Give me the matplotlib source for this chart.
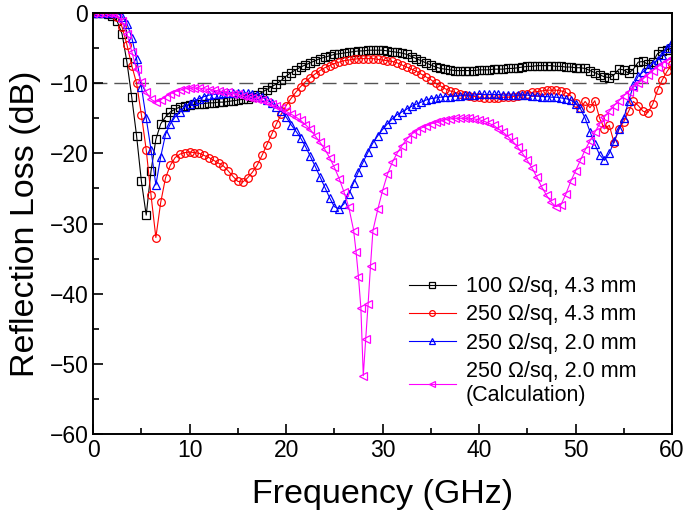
import numpy as np
import matplotlib
matplotlib.use("Agg")
import matplotlib.pyplot as plt
from matplotlib.ticker import MultipleLocator

plt.rcParams["font.family"] = ["Liberation Sans", "DejaVu Sans"]

# frequency grid (GHz) of the measured curves
freq = np.arange(0, 60.01, 0.5)

# 100 ohm/sq, 4.3 mm
rl_100_43 = [
    0, 0, 0, -0.1, -0.4, -1.2, -3.0, -7.0, -12.0, -17.5,
    -24.0, -28.8, -22.5, -18.0, -15.8, -14.8, -14.1, -13.7, -13.4, -13.2,
    -13.1, -13.0, -12.9, -12.9, -12.8, -12.8, -12.7, -12.7, -12.6, -12.5,
    -12.4, -12.3, -12.2, -12.0, -11.7, -11.3, -10.9, -10.5, -10.1, -9.6,
    -9.0, -8.5, -8.1, -7.7, -7.4, -7.1, -6.8, -6.5, -6.3, -6.1,
    -5.9, -5.8, -5.7, -5.6, -5.5, -5.4, -5.4, -5.3, -5.3, -5.3,
    -5.3, -5.4, -5.5, -5.6, -5.7, -5.9, -6.2, -6.5, -6.8, -7.1,
    -7.4, -7.7, -7.9, -8.0, -8.1, -8.2, -8.2, -8.2, -8.2, -8.2,
    -8.1, -8.1, -8.1, -8.0, -8.0, -8.0, -7.9, -7.9, -7.8, -7.7,
    -7.6, -7.6, -7.5, -7.5, -7.5, -7.5, -7.6, -7.6, -7.7, -7.7,
    -7.8, -7.8, -7.9, -8.2, -8.5, -8.8, -9.1, -9.2, -8.8, -8.0,
    -8.1, -8.6, -8.0, -7.0, -6.9, -7.3, -7.0, -5.8, -5.4, -5.2,
    -5.0,
]

# 250 ohm/sq, 4.3 mm
rl_250_43 = [
    0, 0, 0, 0, 0, -0.5, -2.0, -4.5, -7.5, -10.0,
    -14.5, -19.5, -26.0, -32.0, -27.0, -23.5, -21.7, -20.6, -20.1, -19.9,
    -19.8, -19.9, -20.0, -20.3, -20.6, -21.0, -21.4, -21.8, -22.5, -23.3,
    -24.0, -24.1, -23.5, -22.7, -21.7, -20.3, -18.8, -17.3, -15.8, -14.4,
    -13.2, -12.2, -11.3, -10.5, -9.8, -9.2, -8.7, -8.2, -7.8, -7.5,
    -7.2, -7.0, -6.8, -6.7, -6.6, -6.5, -6.5, -6.5, -6.5, -6.6,
    -6.7, -6.8, -6.9, -7.1, -7.4, -7.7, -8.0, -8.3, -8.7, -9.1,
    -9.5, -10.0, -10.4, -10.8, -11.1, -11.3, -11.5, -11.7, -11.8, -11.9,
    -12.0, -12.1, -12.1, -12.1, -12.1, -12.0, -12.0, -11.9, -11.8, -11.6,
    -11.5, -11.3, -11.2, -11.1, -11.0, -11.0, -11.0, -11.1, -11.3, -11.8,
    -12.8, -13.6, -12.6, -13.5, -12.5, -15.0, -16.5, -16.0, -18.5, -16.5,
    -15.5, -14.0, -12.6, -13.2, -14.0, -14.2, -13.0, -11.0, -9.5, -8.3,
    -7.3,
]

# 250 ohm/sq, 2.0 mm
rl_250_20 = [
    0, 0, 0, 0, 0, 0, -0.5, -1.5, -3.5, -6.5,
    -10.5, -15.0, -19.5, -24.5, -20.5, -17.3, -15.8, -14.8, -14.1, -13.4,
    -12.9, -12.5, -12.2, -11.9, -11.7, -11.6, -11.5, -11.4, -11.4, -11.4,
    -11.4, -11.4, -11.4, -11.5, -11.7, -12.0, -12.4, -12.8, -13.4, -14.0,
    -14.8, -15.9, -16.8, -17.8, -19.0, -20.4, -21.8, -23.3, -24.8, -26.3,
    -27.6, -27.9, -27.2, -25.8, -24.2, -22.6, -21.2, -19.8, -18.5, -17.5,
    -16.6, -15.8, -15.1, -14.5, -14.1, -13.7, -13.3, -13.0, -12.7, -12.4,
    -12.2, -12.1, -12.0, -11.9, -11.9, -11.8, -11.8, -11.7, -11.7, -11.7,
    -11.6, -11.6, -11.6, -11.6, -11.6, -11.7, -11.7, -11.7, -11.7, -11.7,
    -11.7, -11.8, -11.8, -11.9, -11.9, -12.0, -12.0, -12.1, -12.2, -12.4,
    -12.9, -13.6, -15.0, -16.9, -18.7, -20.2, -21.0, -20.0, -18.3, -16.6,
    -15.0, -12.6, -10.3, -9.0, -8.4, -7.8, -7.2, -6.7, -6.0, -5.0,
    -4.2,
]

# 250 ohm/sq, 2.0 mm (calculation) - finer steps around the deep dip
freq_calc = np.concatenate([np.arange(0, 27, 0.5),
                            np.arange(27, 29.01, 0.25),
                            np.arange(29.5, 60.01, 0.5)])
rl_calc = [
    0, 0, 0, 0, 0, -0.3, -1.2, -3.0, -5.5, -8.0,
    -9.8, -11.3, -12.3, -12.7, -12.4, -11.9, -11.5, -11.2, -11.0, -10.8,
    -10.7, -10.7, -10.7, -10.8, -10.9, -11.0, -11.1, -11.2, -11.3, -11.5,
    -11.6, -11.8, -11.9, -12.1, -12.2, -12.4, -12.7, -13.0, -13.3, -13.6,
    -14.0, -14.4, -14.8, -15.3, -15.9, -16.6, -17.5, -18.4, -19.4, -20.6,
    -22.0, -23.6, -25.5, -27.7,
    -31.0, -34.0, -37.6, -42.0, -51.7, -46.5, -41.5, -36.0, -31.0,
    -28.0, -25.3, -23.0, -21.3, -20.0, -18.9, -18.0, -17.3, -16.8, -16.4,
    -16.1, -15.8, -15.6, -15.4, -15.2, -15.1, -15.0, -15.0, -15.0, -15.0,
    -15.1, -15.2, -15.4, -15.7, -16.0, -16.5, -17.0, -17.6, -18.3, -19.1,
    -20.0, -21.0, -22.1, -23.4, -24.8, -26.0, -27.0, -27.6, -27.3, -25.8,
    -24.0, -22.5, -21.0, -19.5, -18.2, -17.0, -15.8, -14.8, -14.0, -13.2,
    -12.5, -11.8, -11.2, -10.6, -10.0, -9.4, -8.8, -8.2, -7.7, -7.2,
    -6.8, -6.4,
]

labels = ["100 \u03a9/sq, 4.3 mm", "250 \u03a9/sq, 4.3 mm",
          "250 \u03a9/sq, 2.0 mm", "250 \u03a9/sq, 2.0 mm\n(Calculation)"]

fig = plt.figure(figsize=(6.85, 5.21), dpi=100)
ax = fig.add_axes([0.136, 0.167, 0.845, 0.808])

ax.axhline(-10, color="#555555", lw=1.0, ls=(0, (10, 5)), zorder=1)

style = dict(lw=0.8, markersize=5.5, markeredgewidth=0.9, fillstyle="none")
ax.plot(freq, rl_100_43, color="black", marker="s", label=labels[0], **style)
ax.plot(freq, rl_250_43, color="#ff0000", marker="o", label=labels[1], **style)
ax.plot(freq, rl_250_20, color="#0000ff", marker="^", label=labels[2], **style)
ax.plot(freq_calc, rl_calc, color="#ff00ff", marker="<", label=labels[3], **style)

ax.set_xlim(0, 60)
ax.set_ylim(-60, 0)
ax.xaxis.set_major_locator(MultipleLocator(10))
ax.xaxis.set_minor_locator(MultipleLocator(5))
ax.yaxis.set_major_locator(MultipleLocator(10))
ax.yaxis.set_minor_locator(MultipleLocator(5))
ax.tick_params(which="both", direction="in", labelsize=16.5, width=1.2)
ax.tick_params(which="major", length=7)
ax.tick_params(which="minor", length=4)
for s in ax.spines.values():
    s.set_linewidth(1.4)

ax.set_xlabel("Frequency (GHz)", fontsize=24.5, labelpad=12)
ax.set_ylabel("Reflection Loss (dB)", fontsize=24.5, labelpad=6)

ax.legend(loc="upper left", bbox_to_anchor=(0.53, 0.395), frameon=False,
          fontsize=15.5, handlelength=2.2, handletextpad=0.45,
          labelspacing=0.33, borderaxespad=0, markerscale=0.75)

fig.savefig("out.png", dpi=100)
